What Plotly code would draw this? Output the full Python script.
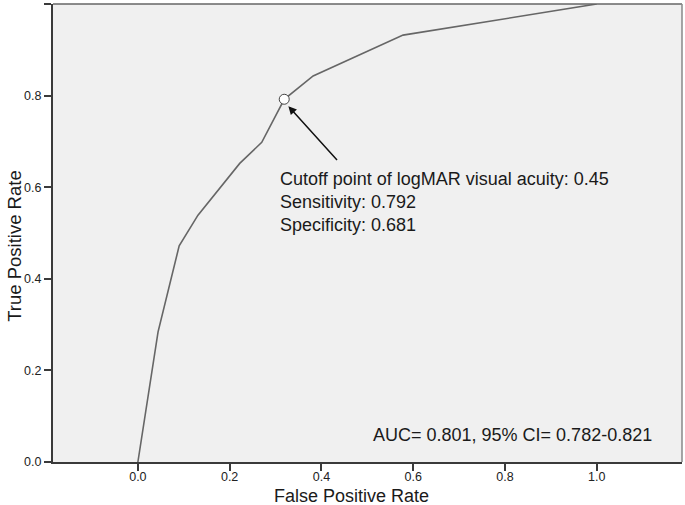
import plotly.graph_objects as go

# ROC curve
fpr = [0.0, 0.044, 0.090, 0.131, 0.222, 0.270, 0.319, 0.382, 0.578, 1.0]
tpr = [0.0, 0.284, 0.472, 0.539, 0.652, 0.698, 0.792, 0.843, 0.932, 1.0]

# cutoff point
cut_fpr = [0.319]
cut_tpr = [0.792]

tick_vals = [0.0, 0.2, 0.4, 0.6, 0.8, 1.0]
tick_text = ["0.0", "0.2", "0.4", "0.6", "0.8", "1.0"]

cutoff_lines = [
    "Cutoff point of logMAR visual acuity: 0.45",
    "Sensitivity: 0.792",
    "Specificity: 0.681",
]
auc_text = "AUC= 0.801, 95% CI= 0.782-0.821"

FONT = "Liberation Sans, Arial, sans-serif"
W, H = 685, 505
ML, MR, MT, MB = 53, 3, 4, 43
plot_h = H - MT - MB
plot_w = W - ML - MR

fig = go.Figure()

fig.add_trace(go.Scatter(
    x=fpr, y=tpr, mode="lines",
    line=dict(color="#666666", width=1.6),
    showlegend=False, hoverinfo="skip",
))

fig.add_trace(go.Scatter(
    x=cut_fpr, y=cut_tpr, mode="markers",
    marker=dict(size=10, color="white", line=dict(color="#444444", width=1)),
    showlegend=False, hoverinfo="skip",
))

# flecha hacia el punto de corte
fig.add_annotation(
    x=0.328, y=0.777, ax=0.437, ay=0.656,
    xref="x", yref="y", axref="x", ayref="y",
    showarrow=True, arrowhead=2, arrowsize=1.1, arrowwidth=1.5,
    arrowcolor="#111111", text="",
)

# texto del punto de corte, una linea por anotacion
for txt, yy in zip(cutoff_lines, [0.618, 0.568, 0.5175]):
    fig.add_annotation(
        x=0.305, y=yy, xref="x", yref="y", text=txt, showarrow=False,
        xanchor="left", yanchor="middle",
        font=dict(family=FONT, size=18, color="#1a1a1a"),
    )

fig.add_annotation(
    x=0.509, y=0.059, xref="x", yref="y", text=auc_text, showarrow=False,
    xanchor="left", yanchor="middle",
    font=dict(family=FONT, size=18, color="#1a1a1a"),
)

# titulos de ejes como anotaciones (posiciones en pixeles -> paper)
fig.add_annotation(
    x=0.466, y=(462 - 495.5) / plot_h, xref="x", yref="paper",
    text="False Positive Rate", showarrow=False,
    xanchor="center", yanchor="middle",
    font=dict(family=FONT, size=18, color="#1a1a1a"),
)
fig.add_annotation(
    x=(15 - ML) / plot_w, y=0.472, xref="paper", yref="y",
    text="True Positive Rate", showarrow=False, textangle=-90,
    xanchor="center", yanchor="middle",
    font=dict(family=FONT, size=18.5, color="#1a1a1a"),
)

# bordes superior y derecho mas claros
fig.add_shape(type="line", xref="paper", yref="paper", x0=0, x1=1, y0=1, y1=1,
              line=dict(color="#666666", width=1.5))
fig.add_shape(type="line", xref="paper", yref="paper", x0=1, x1=1, y0=0, y1=1,
              line=dict(color="#888888", width=1.5))

axis_style = dict(
    tickvals=tick_vals, ticktext=tick_text,
    showgrid=False, zeroline=False,
    showline=True, linecolor="#3a3a3a", linewidth=2,
    ticks="outside", ticklen=7, tickwidth=1.5, tickcolor="#3a3a3a",
    tickfont=dict(size=12.5, color="#222222"),
)

fig.update_layout(
    width=W, height=H,
    margin=dict(l=ML, r=MR, t=MT, b=MB),
    plot_bgcolor="#f0f0f0",
    paper_bgcolor="white",
    font=dict(family=FONT, size=12.5, color="#222222"),
    xaxis=dict(range=[-0.185, 1.186], ticklabelstandoff=-5, **axis_style),
    yaxis=dict(range=[0, 1], **axis_style),
)

fig.write_html(
    "out.html",
    config={"displayModeBar": False},
    post_script="document.body.style.margin='0';",
)
